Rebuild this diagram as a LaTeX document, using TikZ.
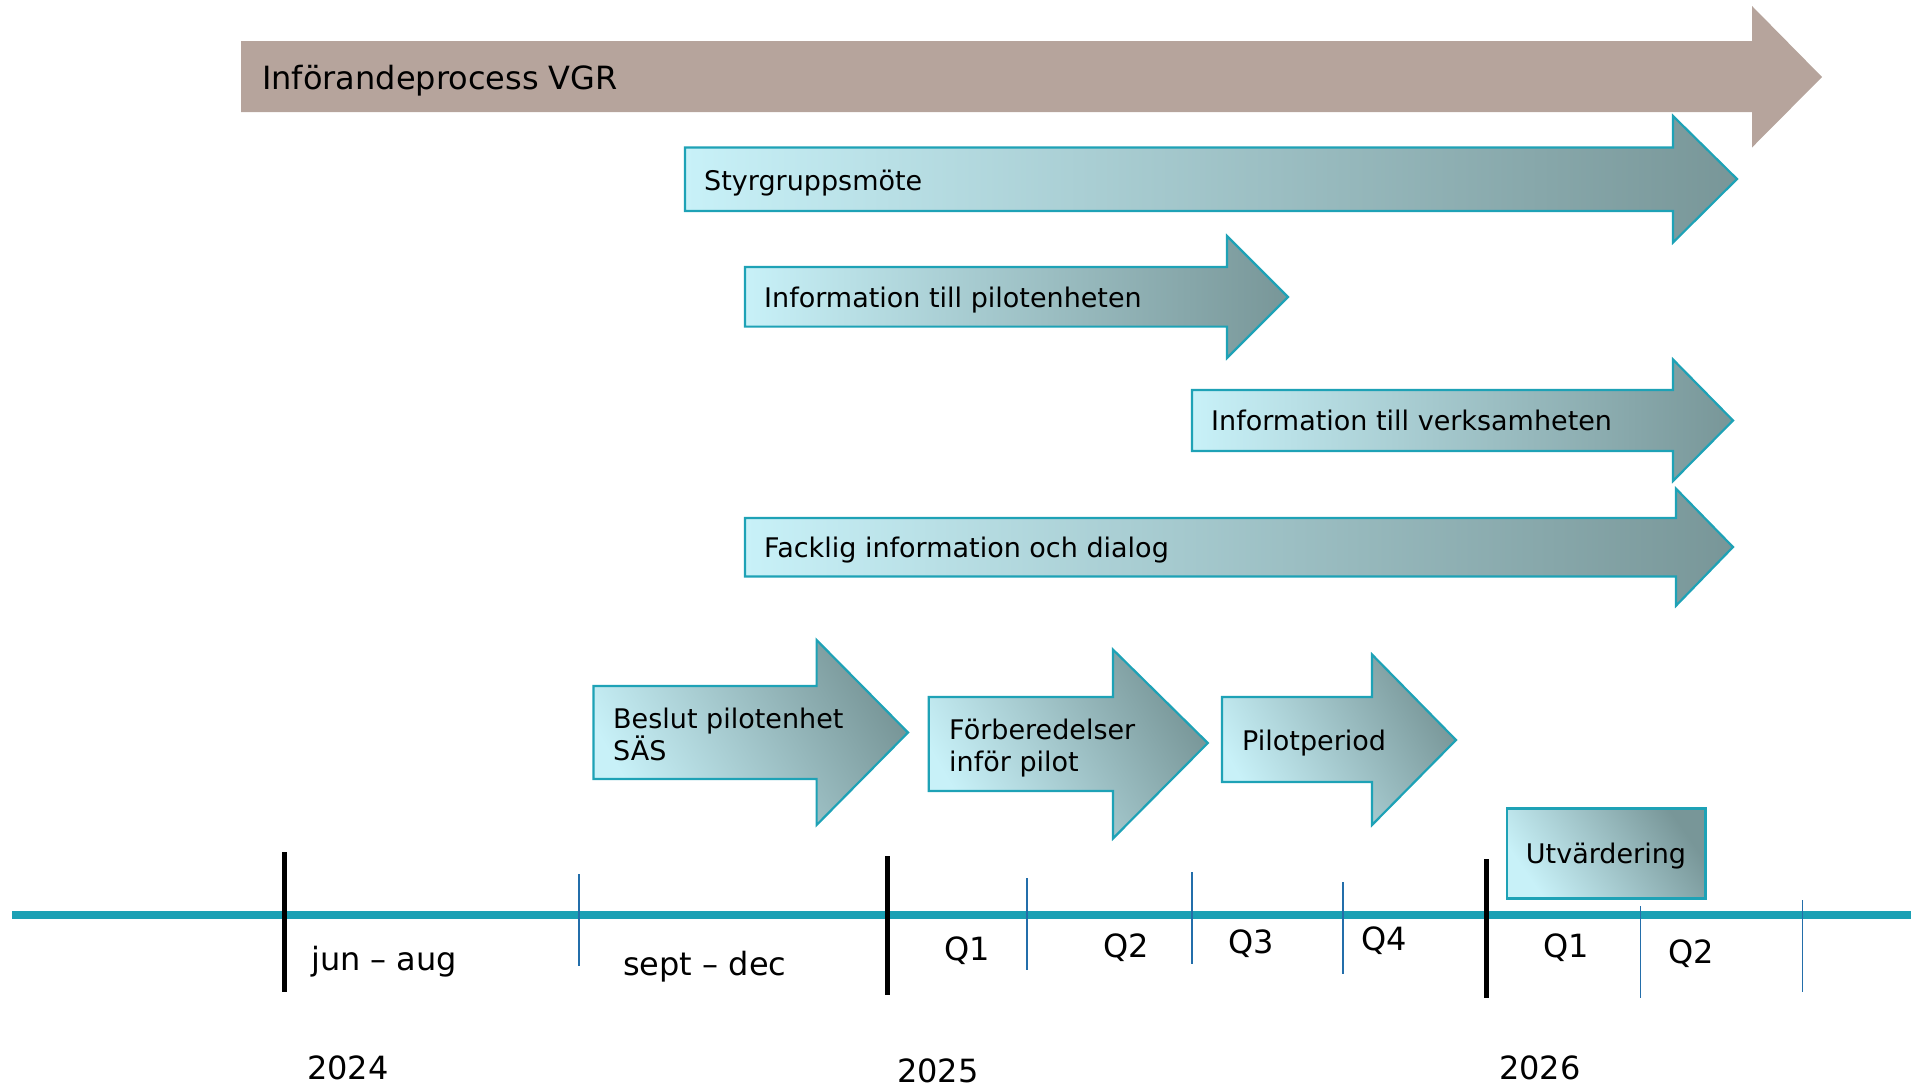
\documentclass[tikz,border=0pt]{standalone}
\usepackage{fontspec}
\setmainfont{DejaVu Sans}
\definecolor{brownbar}{RGB}{182,164,156}
\definecolor{tealline}{RGB}{27,160,180}
\definecolor{tealedge}{RGB}{30,162,182}
\definecolor{gradlight}{RGB}{200,241,248}
\definecolor{graddark}{RGB}{120,150,152}
\definecolor{thintick}{RGB}{35,110,170}
\begin{document}
\begin{tikzpicture}[x=1pt,y=-1pt,
  longarrow/.style={draw=tealedge,line width=2.2pt,line join=miter,left color=gradlight,right color=graddark},
  shortarrow/.style={draw=tealedge,line width=2.2pt,line join=miter,left color=gradlight,right color=graddark,shading angle=120},
  boxlabel/.style={inner sep=0pt,anchor=base west,font=\fontsize{27}{32}\selectfont,align=left},
  timelabel/.style={inner sep=0pt,anchor=base west,font=\fontsize{32}{38}\selectfont},
  yeartick/.style={line width=5pt,black},
  qtick/.style={line width=1.2pt,thintick}]
\useasboundingbox (0,0) rectangle (1911,1088);

% main brown arrow
\fill[brownbar] (241,41) -- (1752,41) -- (1752,6) -- (1822,77) -- (1752,147.5) -- (1752,112) -- (241,112) -- cycle;
\node[inner sep=0pt,anchor=base west,font=\fontsize{32}{38}\selectfont] (vgr) at (262,89.5) {Införandeprocess VGR};

% long arrows
\path[longarrow] (685,147.5) -- (1673,147.5) -- (1673,116) -- (1737,179) -- (1673,242.5) -- (1673,211) -- (685,211) -- cycle;
\node[boxlabel] (styr) at (704,190) {Styrgruppsmöte};

\path[longarrow] (745,267) -- (1227,267) -- (1227,236) -- (1288,297) -- (1227,358) -- (1227,326.6) -- (745,326.6) -- cycle;
\node[boxlabel] (infopilot) at (764,307) {Information till pilotenheten};

\path[longarrow] (1192,390) -- (1673,390) -- (1673,359.5) -- (1733,420.5) -- (1673,481) -- (1673,451) -- (1192,451) -- cycle;
\node[boxlabel] (infoverk) at (1211,430.5) {Information till verksamheten};

\path[longarrow] (745,518) -- (1676,518) -- (1676,488.7) -- (1733,547) -- (1676,605.7) -- (1676,576.5) -- (745,576.5) -- cycle;
\node[boxlabel] (facklig) at (764,557) {Facklig information och dialog};

% short arrows
\path[shortarrow] (593.5,686) -- (816.6,686) -- (816.6,640) -- (908,732.5) -- (816.6,825) -- (816.6,779) -- (593.5,779) -- cycle;
\node[boxlabel] (beslut) at (613,760.5) {Beslut pilotenhet\\SÄS};

\path[shortarrow] (928.7,697) -- (1113,697) -- (1113,649.6) -- (1207.8,743) -- (1113,838.5) -- (1113,791) -- (928.7,791) -- cycle;
\node[boxlabel] (forb) at (949,771.5) {Förberedelser\\inför pilot};

\path[shortarrow] (1222,697) -- (1372,697) -- (1372,654.5) -- (1456,740) -- (1372,825) -- (1372,782) -- (1222,782) -- cycle;
\node[boxlabel] (pilot) at (1242,750) {Pilotperiod};

% evaluation box
\path[shortarrow,shading angle=125] (1507,808.5) rectangle (1705.5,898.5);
\node[inner sep=0pt,anchor=base,font=\fontsize{27}{32}\selectfont] (utv) at (1606,863.5) {Utvärdering};

% timeline
\coordinate (tlstart) at (12,915);
\coordinate (tlend) at (1911,915);
\draw[tealline,line width=8pt] (tlstart) -- (tlend);

% thin quarter ticks
\coordinate (q0a) at (579,874); \coordinate (q0b) at (579,966);
\coordinate (q1a) at (1027,878); \coordinate (q1b) at (1027,970);
\coordinate (q2a) at (1192,872); \coordinate (q2b) at (1192,964);
\coordinate (q3a) at (1343,882); \coordinate (q3b) at (1343,974);
\coordinate (q4a) at (1640.5,906); \coordinate (q4b) at (1640.5,998);
\coordinate (q5a) at (1802.6,900); \coordinate (q5b) at (1802.6,992);
\foreach \i in {0,...,5} {\draw[qtick] (q\i a) -- (q\i b);}

% year ticks
\coordinate (y1a) at (284,852); \coordinate (y1b) at (284,992);
\coordinate (y2a) at (887,856); \coordinate (y2b) at (887,995);
\coordinate (y3a) at (1486,859); \coordinate (y3b) at (1486,998);
\foreach \i in {1,2,3} {\draw[yeartick] (y\i a) -- (y\i b);}

% period labels
\node[timelabel] (junaug) at (311,970) {jun – aug};
\node[timelabel] (septdec) at (623,975) {sept – dec};
\node[timelabel] (qa) at (944.5,960) {Q1};
\node[timelabel] (qb) at (1103,957) {Q2};
\node[timelabel] (qc) at (1228.5,953) {Q3};
\node[timelabel] (qd) at (1361,950) {Q4};
\node[timelabel] (qe) at (1543,957) {Q1};
\node[timelabel] (qf) at (1668.5,963) {Q2};

% years
\node[timelabel] (y2024) at (307,1079) {2024};
\node[timelabel] (y2025) at (897,1082.5) {2025};
\node[timelabel] (y2026) at (1499,1079) {2026};
\end{tikzpicture}
\end{document}
